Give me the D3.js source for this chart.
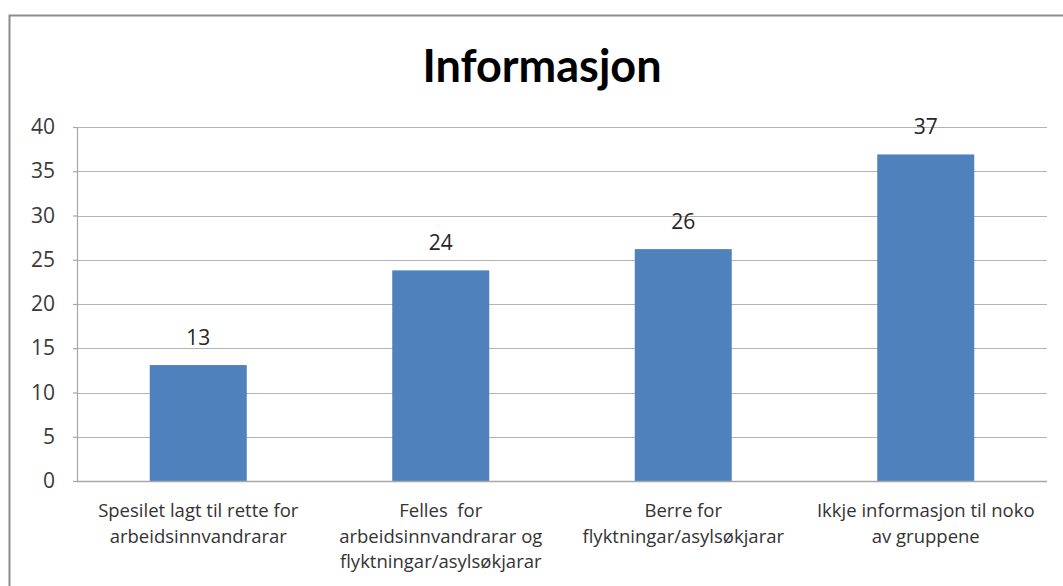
<!DOCTYPE html>
<html lang="no">
<head>
<meta charset="utf-8">
<title>Informasjon</title>
<style>
   html,body { margin:0; padding:0; background:white; }
   svg { display:block; }
</style>
<script src="https://d3js.org/d3.v7.min.js"></script>
</head>
<body>
<script>
// data
const categories = [
   ['Spesilet lagt til rette for','arbeidsinnvandrarar'],
   ['Felles  for','arbeidsinnvandrarar og','flyktningar/asylsøkjarar'],
   ['Berre for','flyktningar/asylsøkjarar'],
   ['Ikkje informasjon til noko','av gruppene']
];
const values = [13.1, 23.8, 26.2, 36.9];
const yTicks = [0, 5, 10, 15, 20, 25, 30, 35, 40];

const width = 1063, height = 586;
const margin = {top:127, right:16, bottom:105, left:77};

const svg = d3.select('body').append('svg')
   .attr('width', width)
   .attr('height', height);

// outer chart frame
svg.append('rect')
   .attr('x', 9.5).attr('y', 15.5)
   .attr('width', width + 20).attr('height', height + 20)
   .attr('fill', 'white')
   .attr('stroke', '#8c8c8c')
   .attr('stroke-width', 2);

svg.append('text')
   .attr('x', 542).attr('y', 82)
   .attr('text-anchor', 'middle')
   .style('font', 'bold 45px Lato, "Open Sans", sans-serif')
   .attr('fill', '#000')
   .text('Informasjon');

const x = d3.scaleBand()
   .domain(d3.range(categories.length))
   .range([margin.left, width - margin.right])
   .paddingInner(0.6)
   .paddingOuter(0.3);

const y = d3.scaleLinear()
   .domain([0, 40])
   .range([height - margin.bottom, margin.top]);

// gridlines
svg.append('g')
   .selectAll('line')
   .data(yTicks.filter(d => d > 0))
   .join('line')
   .attr('x1', margin.left).attr('x2', width - margin.right)
   .attr('y1', d => Math.round(y(d)) + 0.5).attr('y2', d => Math.round(y(d)) + 0.5)
   .attr('stroke', '#b3b3b3')
   .attr('stroke-width', 1.2);

// y axis
const yAxis = svg.append('g')
   .attr('transform', `translate(${margin.left},0)`)
   .call(d3.axisLeft(y).tickValues(yTicks).tickSize(4).tickPadding(18));
yAxis.selectAll('line, path').attr('stroke', '#a6a6a6').attr('stroke-width', 1.2);
yAxis.selectAll('text')
   .style('font', '21px "Open Sans", sans-serif')
   .attr('fill', '#3a3a3a');

// bars
svg.append('g')
   .attr('fill', '#4f81bd')
   .selectAll('rect')
   .data(values)
   .join('rect')
   .attr('x', (d, i) => x(i))
   .attr('y', d => y(d))
   .attr('width', x.bandwidth())
   .attr('height', d => y(0) - y(d));

// x axis line
svg.append('line')
   .attr('x1', margin.left).attr('x2', width - margin.right)
   .attr('y1', y(0) + 0.5).attr('y2', y(0) + 0.5)
   .attr('stroke', '#a6a6a6')
   .attr('stroke-width', 1.5);

// value labels
svg.append('g')
   .selectAll('text')
   .data(values)
   .join('text')
   .attr('x', (d, i) => x(i) + x.bandwidth() / 2)
   .attr('y', d => y(d) - 20)
   .attr('text-anchor', 'middle')
   .style('font', '21px "Open Sans", sans-serif')
   .attr('fill', '#262626')
   .text(d => Math.round(d));

// category labels
const cat = svg.append('g')
   .selectAll('text')
   .data(categories)
   .join('text')
   .attr('x', (d, i) => x(i) + x.bandwidth() / 2)
   .attr('y', y(0) + 36)
   .attr('text-anchor', 'middle')
   .style('font', '18.5px "Open Sans", sans-serif')
   .attr('fill', '#333');
cat.selectAll('tspan')
   .data(d => d)
   .join('tspan')
   .attr('x', function() { return d3.select(this.parentNode).attr('x'); })
   .attr('dy', (d, i) => i === 0 ? 0 : 25.5)
   .style('white-space', 'pre')
   .text(d => d);
</script>
</body>
</html>
